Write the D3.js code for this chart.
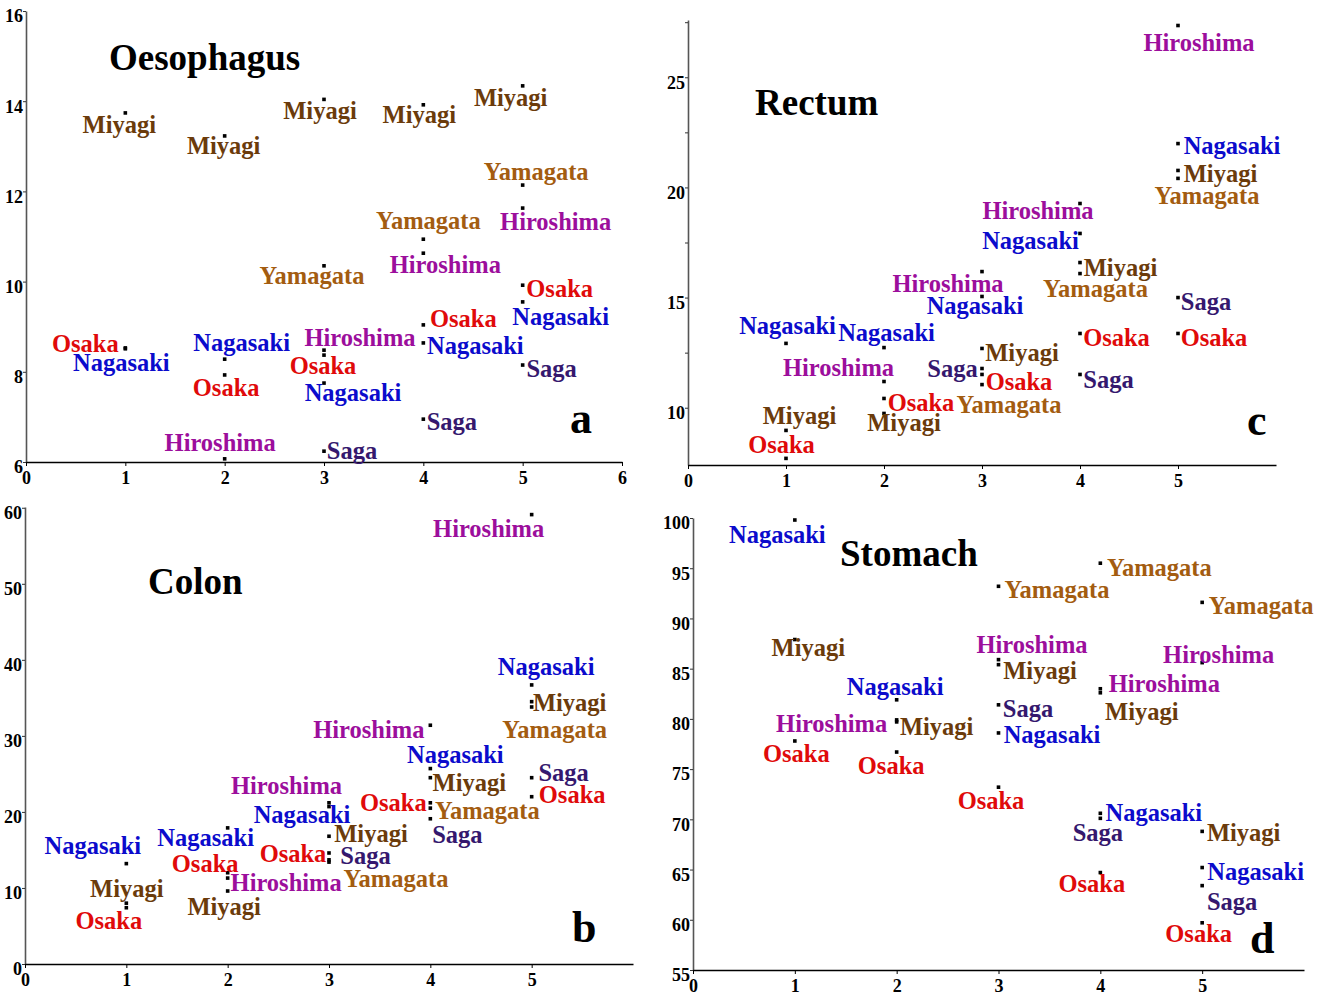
<!DOCTYPE html>
<html><head><meta charset="utf-8">
<script src="https://cdn.jsdelivr.net/npm/d3@7"></script>
<style>
html,body{margin:0;padding:0;background:#fff;}
svg{display:block;font-family:"Liberation Serif","Times New Roman",serif;font-weight:bold;}
</style></head>
<body><svg id="chart" width="1326" height="996"></svg>
<script>
// ---------------- DATA ----------------
const periods = [1, 2, 3, 4, 5];
const prefectures = ["Miyagi", "Yamagata", "Hiroshima", "Osaka", "Nagasaki", "Saga"];

// Oesophagus (panel a)
const oesMiyagi    = [13.74, 13.23, 14.04, 13.92, 14.34];
const oesYamagata  = [null, null, 10.35, 10.94, 12.14];
const oesHiroshima = [null, 6.07, 8.48, 10.63, 11.63];
const oesOsaka     = [8.53, 7.93, 8.37, 9.04, 9.92];
const oesNagasaki  = [8.51, 8.28, 7.75, 8.64, 9.55];
const oesSaga      = [null, null, 6.24, 6.95, 8.15];

// Colon (panel b)
const colMiyagi    = [8.0, 9.6, 16.8, 24.5, 34.5];
const colYamagata  = [null, null, 13.4, 20.5, 33.8];
const colHiroshima = [null, 11.3, 21.2, 31.4, 59.1];
const colOsaka     = [7.4, 12.0, 14.6, 21.2, 22.0];
const colNagasaki  = [13.2, 17.9, 20.7, 25.7, 36.7];
const colSaga      = [null, null, 13.7, 19.1, 24.5];

// Rectum (panel c)
const recMiyagi    = [8.97, 9.74, 12.69, 16.59, 20.77];
const recYamagata  = [null, null, 11.05, 16.09, 20.41];
const recHiroshima = [null, 11.19, 16.18, 19.27, 27.35];
const recOsaka     = [7.70, 10.42, 11.51, 13.37, 13.37];
const recNagasaki  = [12.92, 12.73, 15.05, 17.91, 21.99];
const recSaga      = [null, null, 11.78, 11.51, 15.0];

// Stomach (panel d)
const stoMiyagi    = [87.9, 79.7, 85.4, 82.6, 68.8];
const stoYamagata  = [null, null, 93.2, 95.5, 91.6];
const stoHiroshima = [null, 79.9, 85.9, 83.0, 85.6];
const stoOsaka     = [77.8, 76.7, 73.2, 64.7, 59.7];
const stoNagasaki  = [99.8, 81.9, 78.6, 70.6, 65.2];
const stoSaga      = [null, null, 81.4, 70.1, 63.4];

// Tick labels
const oesYTicks = [6, 8, 10, 12, 14, 16];
const colYTicks = [0, 10, 20, 30, 40, 50, 60];
const recYTicks = [10, 12.5, 15, 17.5, 20, 22.5, 25, 27.5];
const stoYTicks = [55, 60, 65, 70, 75, 80, 85, 90, 95, 100];
const xTicksFull = [0, 1, 2, 3, 4, 5, 6];
const xTicksShort = [0, 1, 2, 3, 4, 5];

// ---------------- STYLE / LAYOUT ----------------
const prefColors = {
  Miyagi: "#6b3b0b", Yamagata: "#a35c10", Hiroshima: "#9c0e9c",
  Osaka: "#e00a0a", Nagasaki: "#0b0bcc", Saga: "#35186e"
};

// label offsets [dx, dy] of label centre from its point, per prefecture row, per period
const oesLabelOff = [
  [[-6,12],[-1,10],[-4,12],[-4,10],[-12,12.5]],
  [null,null,[-12,10],[5,-18],[13.5,-13.5]],
  [null,[-4.5,-16],[36,-12],[22,12],[33,14]],
  [[-40,-3.5],[1.5,13],[-1,10.5],[40,-5.5],[37,3.5]],
  [[-4,14],[17,-16],[29,10],[52,2.5],[38,15.5]],
  [null,null,[28,0],[28.5,3],[29,4]]
];
const colLabelOff = [
  [[0.5,-14.5],[-3.5,15.5],[42,-2],[39,5.5],[38,1.5]],
  [null,null,[67,16.5],[57,3],[23,23]],
  [null,[58.5,5],[-42.5,-17],[-61.5,5],[-43,14.5]],
  [[-17.5,13],[-22.5,-9],[-36,0.5],[-37,0],[40.5,-1.5]],
  [[-33.5,-17.5],[-22,10],[-27,8],[25,-13.5],[14.5,-18]],
  [null,null,[36.5,-4],[27,16],[32,-5]]
];
const recLabelOff = [
  [[13.5,-14.5],[20,9.5],[40,4.5],[40.5,5],[42.5,3]],
  [null,null,[27,20],[15.5,15],[29,18]],
  [null,[-45.5,-13.5],[-34,12],[-42,7],[21,17]],
  [[-4.5,-13.5],[37,4],[37,7],[36.5,4.5],[36,4.5]],
  [[1.5,-17],[2.5,-14.5],[-7,9],[-49.5,7],[54,2]],
  [null,null,[-29.5,0],[28.5,5.5],[28,4]]
];
const stoLabelOff = [
  [[13.5,8],[40,5],[41.5,6],[41.5,19],[41.5,2]],
  [null,null,[58.5,4],[59,5],[59,4]],
  [null,[-65,4],[33.5,-15],[64,-5],[16.5,-8]],
  [[1.5,13],[-5.5,14],[-7.5,14],[-8.5,11],[-3.5,11]],
  [[-17.5,15],[-1.5,-13],[53.5,2],[53.5,0],[53.5,4]],
  [null,null,[29.5,4],[-2.5,15],[30,16]]
];

const panels = [
  { title: "Oesophagus", letter: "a", series: [oesMiyagi, oesYamagata, oesHiroshima, oesOsaka, oesNagasaki, oesSaga],
    off: oesLabelOff, yDomain: [6, 16], xRange: [26, 622], yRange: [462, 11],
    yTicks: oesYTicks, yLabel: d => d, xTicks: xTicksFull,
    titlePos: [109, 70], letterPos: [570, 433] },
  { title: "Colon", letter: "b", series: [colMiyagi, colYamagata, colHiroshima, colOsaka, colNagasaki, colSaga],
    off: colLabelOff, yDomain: [0, 60.1], xRange: [25, 633], yRange: [964, 507],
    yTicks: colYTicks, yLabel: d => d, xTicks: xTicksShort,
    titlePos: [148, 594], letterPos: [572, 942] },
  { title: "Rectum", letter: "c", series: [recMiyagi, recYamagata, recHiroshima, recOsaka, recNagasaki, recSaga],
    off: recLabelOff, yDomain: [7.4, 27.6], xRange: [688, 1276], yRange: [465, 20],
    yTicks: recYTicks, yLabel: d => (d % 5 === 0 ? d : ""), xTicks: xTicksShort,
    titlePos: [755, 115], letterPos: [1247, 435] },
  { title: "Stomach", letter: "d", series: [stoMiyagi, stoYamagata, stoHiroshima, stoOsaka, stoNagasaki, stoSaga],
    off: stoLabelOff, yDomain: [55, 100], xRange: [693, 1304], yRange: [970, 518],
    yTicks: stoYTicks, yLabel: d => d, xTicks: xTicksShort,
    titlePos: [840, 566], letterPos: [1250, 953] }
];

const svg = d3.select("#chart");

panels.forEach(p => {
  const g = svg.append("g");
  const x = d3.scaleLinear().domain([0, 6]).range(p.xRange);
  const y = d3.scaleLinear().domain(p.yDomain).range(p.yRange);

  // y axis
  const ya = g.append("g").attr("transform", `translate(${p.xRange[0]},0)`)
    .call(d3.axisLeft(y).tickValues(p.yTicks).tickSize(3).tickPadding(0).tickSizeOuter(0).tickFormat(p.yLabel));
  ya.select(".domain").attr("stroke", "#555").attr("stroke-width", 1.6);
  ya.selectAll(".tick line").attr("stroke", "#333");
  ya.selectAll(".tick text").attr("font-family", "Liberation Serif").attr("font-weight", "bold")
    .attr("font-size", 18).attr("fill", "#000").attr("dy", "0.6em");

  // x axis
  const xa = g.append("g").attr("transform", `translate(0,${p.yRange[0]})`)
    .call(d3.axisBottom(x).tickValues(p.xTicks).tickSize(4).tickPadding(5).tickSizeOuter(0).tickFormat(d3.format("d")));
  xa.select(".domain").attr("stroke", "#000").attr("stroke-width", 1.4);
  xa.selectAll(".tick text").attr("font-family", "Liberation Serif").attr("font-weight", "bold")
    .attr("font-size", 18).attr("fill", "#000");

  // points and labels
  p.series.forEach((vals, si) => {
    const pref = prefectures[si];
    vals.forEach((v, i) => {
      if (v === null) return;
      const px = x(periods[i]), py = y(v);
      g.append("rect").attr("x", px - 1.8).attr("y", py - 1.8)
        .attr("width", 3.6).attr("height", 3.6).attr("fill", "#000");
      const o = p.off[si][i];
      g.append("text").attr("x", px + o[0]).attr("y", py + o[1]).attr("dy", "0.33em")
        .attr("text-anchor", "middle").attr("font-size", 24.5).attr("font-weight", "bold")
        .attr("fill", prefColors[pref]).text(pref);
    });
  });

  g.append("text").attr("x", p.titlePos[0]).attr("y", p.titlePos[1])
    .attr("font-size", 37).attr("font-weight", "bold").attr("fill", "#000").text(p.title);
  g.append("text").attr("x", p.letterPos[0]).attr("y", p.letterPos[1])
    .attr("font-size", 44).attr("font-weight", "bold").attr("fill", "#000").text(p.letter);
});
</script>
</body></html>
